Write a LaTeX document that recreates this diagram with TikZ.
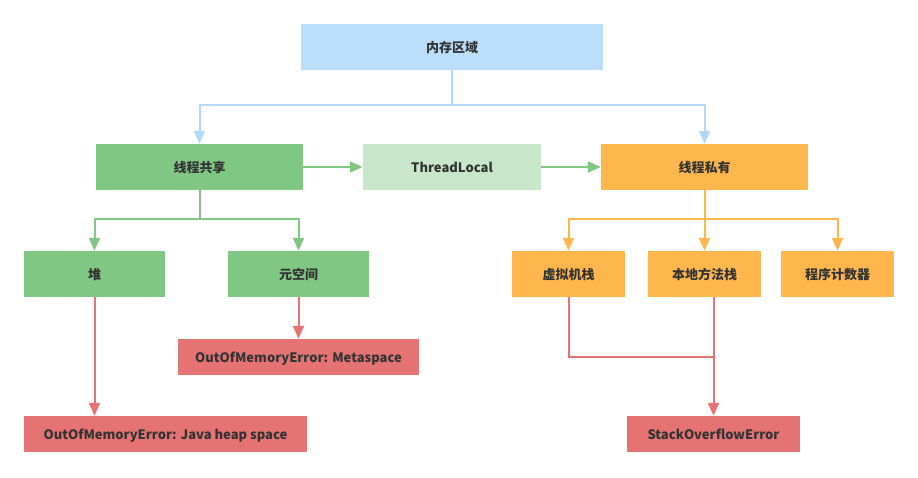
\documentclass[tikz,border=0pt]{standalone}
\usepackage{fontspec}
\setmainfont{Noto Sans CJK SC}
\usetikzlibrary{arrows.meta,calc}
\definecolor{cblue}{HTML}{BBDEFB}
\definecolor{cbline}{HTML}{B3D9F9}
\definecolor{cgreen}{HTML}{81C784}
\definecolor{clgreen}{HTML}{C8E6C9}
\definecolor{corange}{HTML}{FFB74D}
\definecolor{cred}{HTML}{E57373}
\definecolor{ctext}{HTML}{333333}
\tikzset{
  box/.style={draw=none, inner sep=0pt, minimum height=46pt, text=ctext,
    text height=12pt, text depth=2pt,
    font=\fontsize{13}{15}\selectfont\bfseries},
  errbox/.style={box, fill=cred, minimum height=36pt},
  link/.style={line width=2pt, -{Triangle[length=13pt,width=11pt]}},
  plain/.style={line width=2pt},
}
\begin{document}
\begin{tikzpicture}[x=1pt,y=-1pt]
\fill[white] (0,0) rectangle (918,477);
\useasboundingbox (0,0) rectangle (918,477);

\node[box, fill=cblue, minimum width=302pt] (mem) at (452,47) {内存区域};
\node[box, fill=cgreen, minimum width=207pt] (share) at (199.5,167) {线程共享};
\node[box, fill=clgreen, minimum width=178pt] (tl) at (452,167) {ThreadLocal};
\node[box, fill=corange, minimum width=207pt] (priv) at (704.5,167) {线程私有};

\node[box, fill=cgreen, minimum width=141pt] (heap) at (94.5,274) {堆};
\node[box, fill=cgreen, minimum width=141pt] (meta) at (298.5,274) {元空间};
\node[box, fill=corange, minimum width=113pt] (vms) at (568.5,274) {虚拟机栈};
\node[box, fill=corange, minimum width=113pt] (nms) at (704.5,274) {本地方法栈};
\node[box, fill=corange, minimum width=113pt] (pc) at (837.5,274) {程序计数器};

\node[errbox, minimum width=241pt] (oomm) at (298.5,357) {OutOfMemoryError: Metaspace};
\node[errbox, minimum width=283pt] (oomh) at (165.5,434) {OutOfMemoryError: Java heap space};
\node[errbox, minimum width=173pt] (soe) at (713.5,434) {StackOverflowError};

% blue
\draw[link, cbline] (mem.south) -- ++(0,35) -| (share.north);
\draw[link, cbline] (mem.south) -- ++(0,35) -| (priv.north);
% green
\draw[link, cgreen] (share.east) -- (tl.west);
\draw[link, cgreen] (tl.east) -- (priv.west);
\draw[link, cgreen] (share.south) -- ++(0,29) -| (heap.north);
\draw[link, cgreen] (share.south) -- ++(0,29) -| (meta.north);
% orange
\draw[link, corange] (priv.south) -- ++(0,29) -| (vms.north);
\draw[link, corange] (priv.south) -- ++(0,29) -| (pc.north);
\draw[link, corange] (priv.south) -- (nms.north);
% red
\draw[link, cred] (heap.south) -- (heap.south |- oomh.north);
\draw[link, cred] (meta.south) -- (oomm.north);
\draw[link, cred] (nms.south -| soe.north) -- (soe.north);
\coordinate (join) at ($(nms.south -| soe.north)+(0,60)$);
\draw[plain, cred] (vms.south) |- (join);
\end{tikzpicture}
\end{document}
